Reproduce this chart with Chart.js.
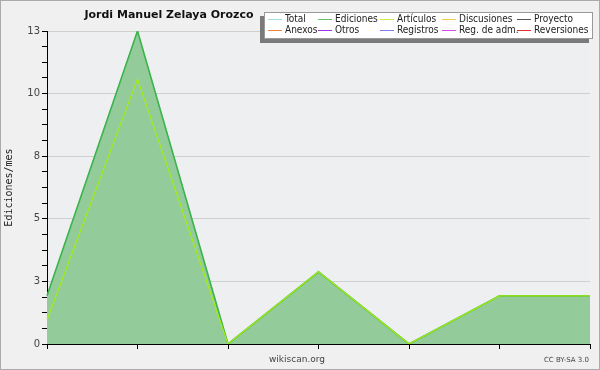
<!DOCTYPE html>
<html>
<head>
<meta charset="utf-8">
<script src="https://cdn.jsdelivr.net/npm/chart.js@4/dist/chart.umd.min.js"></script>
<style>
  body { margin: 0; background: #f0f0f0; }
  #wrap { position: relative; width: 600px; height: 370px; overflow: hidden; background: #f0f0f0; }
  #chart { position: absolute; left: 0; top: 0; }
  #frame { position: absolute; left: 0; top: 0; width: 600px; height: 370px; box-sizing: border-box; border: 1px solid #aaa; pointer-events: none; }
  #title { position: absolute; left: 0; top: 8px; width: 338px; text-align: center; font: bold 11px "DejaVu Sans"; color: #111; }
  #legend { position: absolute; left: 264px; top: 12px; width: 329px; height: 27px; box-sizing: border-box; background: #fff; border: 1px solid #999; box-shadow: -4px 4px 0 #7a7a7a; }
  .item { position: absolute; font: 10px "DejaVu Sans Condensed", "DejaVu Sans"; color: #222; white-space: nowrap; line-height: 11px; }
  .item i { display: inline-block; width: 14px; height: 1px; vertical-align: middle; margin-right: 3px; }
  #site { position: absolute; left: 250px; width: 94px; top: 354px; text-align: center; font: 9px "DejaVu Sans"; color: #444; }
  #lic { position: absolute; right: 11px; top: 356px; font: 7px "DejaVu Sans"; color: #444; }
</style>
</head>
<body>
<div id="wrap">
  <canvas id="chart" width="600" height="370"></canvas>
  <div id="title">Jordi Manuel Zelaya Orozco</div>
  <div id="legend"></div>
  <div id="site">wikiscan.org</div>
  <div id="lic">CC BY-SA 3.0</div>
  <div id="frame"></div>
</div>
<script>
// months (no labels shown on the axis)
const labels = ["", "", "", "", "", "", ""];
const totalData = [2, 13, 0, 3, 0, 2, 2];
const edicionesData = [2, 13, 0, 3, 0, 2, 2];
const articulosData = [1, 11, 0, 3, 0, 2, 2];

const yTickValues = [0, 2.6, 5.2, 7.8, 10.4, 13];
const yTickLabels = ["0", "3", "5", "8", "10", "13"];
const yMinorPerMajor = 4;

const legendNames = ["Total", "Ediciones", "Artículos", "Discusiones", "Proyecto",
  "Anexos", "Otros", "Registros", "Reg. de adm.", "Reversiones"];
const legendColors = ["#9fdede", "#66c266", "#c6ec4a", "#f7c94a", "#555555",
  "#f08040", "#9933ee", "#7f7ff0", "#d050e0", "#e03030"];

// legend layout (box coords)
const legendCols = [3, 53, 115, 177, 252];
const legendRows = [0, 11];
const legendEl = document.getElementById("legend");
legendNames.forEach((name, i) => {
  const d = document.createElement("div");
  d.className = "item";
  d.style.left = legendCols[i % 5] + "px";
  d.style.top = legendRows[Math.floor(i / 5)] + "px";
  d.innerHTML = `<i style="background:${legendColors[i]}"></i>${name}`;
  legendEl.appendChild(d);
});

function isMajor(v) {
  return yTickValues.some((t) => Math.abs(t - v) < 1e-6);
}

// plot background
const plotBg = {
  id: "plotBg",
  beforeDraw(chart) {
    const { ctx, chartArea: a } = chart;
    ctx.save();
    ctx.fillStyle = "#eeeff1";
    ctx.fillRect(a.left, a.top, a.right - a.left, a.bottom - a.top);
    ctx.restore();
  },
};

new Chart(document.getElementById("chart").getContext("2d"), {
  type: "line",
  data: {
    labels: labels,
    datasets: [
      {
        label: "Artículos",
        data: articulosData,
        borderColor: "#a4ec12",
        borderWidth: 1.2,
        fill: false,
        pointRadius: 0,
        order: 0,
      },
      {
        label: "Ediciones",
        data: edicionesData,
        borderColor: "#3cb44b",
        backgroundColor: "#93cb9a",
        borderWidth: 1.6,
        fill: "origin",
        pointRadius: 0,
        order: 1,
      },
      {
        label: "Total",
        data: totalData,
        borderColor: "#9fdede",
        borderWidth: 1,
        fill: false,
        pointRadius: 0,
        order: 2,
      },
    ],
  },
  options: {
    responsive: false,
    animation: false,
    events: [],
    layout: { padding: { left: 0, top: 31, right: 10, bottom: 20 } },
    plugins: { legend: { display: false }, tooltip: { enabled: false }, title: { display: false } },
    scales: {
      x: {
        offset: false,
        grid: { drawOnChartArea: false, tickLength: 5, tickColor: "#000" },
        border: { color: "#000" },
        ticks: { autoSkip: false, maxRotation: 0, padding: 0, font: { size: 1 } },
        afterFit: (s) => { s.height = 6; },
      },
      y: {
        min: 0,
        max: 13,
        afterBuildTicks: (s) => {
          const ticks = [];
          for (let i = 0; i < yTickValues.length - 1; i++) {
            const step = (yTickValues[i + 1] - yTickValues[i]) / yMinorPerMajor;
            for (let k = 0; k < yMinorPerMajor; k++) ticks.push({ value: yTickValues[i] + k * step });
          }
          ticks.push({ value: yTickValues[yTickValues.length - 1] });
          s.ticks = ticks;
        },
        ticks: {
          autoSkip: false,
          padding: 2,
          color: "#444",
          font: { family: "DejaVu Sans", size: 10 },
          callback: (v) => {
            const idx = yTickValues.findIndex((t) => Math.abs(t - v) < 1e-6);
            return idx >= 0 ? yTickLabels[idx] : "";
          },
        },
        grid: {
          color: (ctx) => (ctx.tick && isMajor(ctx.tick.value) ? "#cfcfcf" : "rgba(0,0,0,0)"),
          tickColor: "#000",
          tickLength: 5,
        },
        border: { color: "#000" },
        title: {
          display: true,
          text: "Ediciones/mes",
          color: "#222",
          font: { family: "DejaVu Sans Mono", size: 10 },
          padding: { top: 3, bottom: 0 },
        },
        afterFit: (s) => { s.width = 47; },
      },
    },
  },
  plugins: [plotBg],
});
</script>
</body>
</html>
